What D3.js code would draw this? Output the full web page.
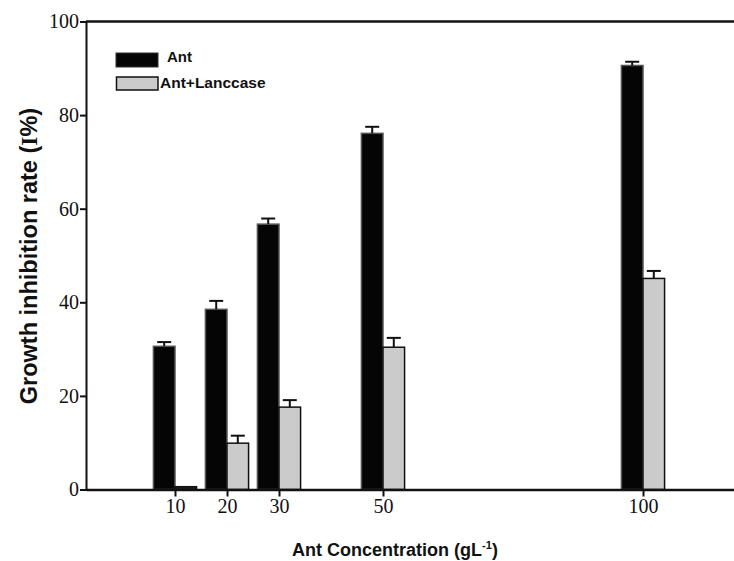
<!DOCTYPE html>
<html><head><meta charset="utf-8">
<script src="https://cdn.jsdelivr.net/npm/d3@7"></script>
<style>body{margin:0;background:#fff}svg{display:block}</style>
</head><body>
<svg id="c" width="734" height="561"></svg>
<script>
const concentrations = [10, 20, 30, 50, 100];
const antValues = [30.6, 38.5, 56.7, 76.1, 90.6];
const antErrors = [0.9, 1.8, 1.2, 1.4, 0.8];
const laccaseValues = [0.6, 9.9, 17.6, 30.4, 45.1];
const laccaseErrors = [0, 1.6, 1.5, 2.0, 1.6];
const yTicks = [0, 20, 40, 60, 80, 100];
const seriesNames = ["Ant", "Ant+Lanccase"];

const svg = d3.select("#c");
const x = d3.scaleLinear().domain([-7.115, 117.5]).range([86, 734]);
const y = d3.scaleLinear().domain([0, 100]).range([489.5, 21.5]);
const bw = x(4.15) - x(0);
const serif = "'Liberation Serif','Times New Roman',serif";
const sans = "'Liberation Sans',Arial,sans-serif";

// bars
const series = [
  {name: seriesNames[0], vals: antValues, errs: antErrors, fill: "#050505", stroke: "#555", off: -1},
  {name: seriesNames[1], vals: laccaseValues, errs: laccaseErrors, fill: "#cbcbcb", stroke: "#111", off: 0}
];
series.forEach(s => {
  const g = svg.append("g");
  concentrations.forEach((c, i) => {
    const x0 = x(c) + s.off * bw;
    g.append("rect").attr("x", x0).attr("y", y(s.vals[i])).attr("width", bw)
      .attr("height", y(0) - y(s.vals[i])).attr("fill", s.vals[i] < 1 ? "#222" : s.fill)
      .attr("stroke", s.stroke).attr("stroke-width", 1.5);
    if (s.errs[i] > 0) {
      const cx = x0 + bw / 2;
      g.append("line").attr("x1", cx).attr("x2", cx).attr("y1", y(s.vals[i]))
        .attr("y2", y(s.vals[i] + s.errs[i])).attr("stroke", "#111").attr("stroke-width", 2);
      g.append("line").attr("x1", cx - 7).attr("x2", cx + 7).attr("y1", y(s.vals[i] + s.errs[i]))
        .attr("y2", y(s.vals[i] + s.errs[i])).attr("stroke", "#111").attr("stroke-width", 2);
    }
  });
});

// axes
const yAxis = svg.append("g").attr("transform", `translate(${x.range()[0]},0)`)
  .call(d3.axisLeft(y).tickValues(yTicks).tickSize(6).tickPadding(1));
yAxis.select(".domain").attr("stroke", "#111").attr("stroke-width", 2);
yAxis.selectAll(".tick line").attr("stroke", "#111").attr("stroke-width", 2);
yAxis.selectAll(".tick text").attr("font-family", serif).attr("font-size", 20).attr("fill", "#111");

const xAxis = svg.append("g").attr("transform", `translate(0,${y(0)})`)
  .call(d3.axisBottom(x).tickValues(concentrations).tickSize(7).tickPadding(2).tickSizeOuter(0));
xAxis.select(".domain").attr("stroke", "#111").attr("stroke-width", 2.5);
xAxis.selectAll(".tick line").attr("stroke", "#111").attr("stroke-width", 2);
xAxis.selectAll(".tick text").attr("font-family", serif).attr("font-size", 20).attr("fill", "#111");

// top frame line
svg.append("line").attr("x1", x.range()[0]).attr("x2", x.range()[1])
  .attr("y1", y(100)).attr("y2", y(100)).attr("stroke", "#111").attr("stroke-width", 2.5);

// legend
const leg = svg.append("g");
leg.append("rect").attr("x", 116).attr("y", 53).attr("width", 42).attr("height", 14)
  .attr("fill", "#050505").attr("stroke", "#333").attr("stroke-width", 1);
leg.append("text").attr("x", 167).attr("y", 62).text(seriesNames[0])
  .attr("font-family", sans).attr("font-weight", "bold").attr("font-size", 15).attr("fill", "#111");
leg.append("rect").attr("x", 116.5).attr("y", 77).attr("width", 41.5).attr("height", 13)
  .attr("fill", "#cbcbcb").attr("stroke", "#111").attr("stroke-width", 1.5);
leg.append("text").attr("x", 160).attr("y", 88).text(seriesNames[1])
  .attr("font-family", sans).attr("font-weight", "bold").attr("font-size", 15.5).attr("fill", "#111");

// axis titles
const yt = svg.append("text").attr("transform", "translate(37,256) rotate(-90)")
  .attr("text-anchor", "middle").attr("font-family", sans).attr("font-weight", "bold")
  .attr("font-size", 23.5).attr("fill", "#111");
yt.append("tspan").text("Growth inhibition rate (");
yt.append("tspan").text("I").attr("font-family", serif);
yt.append("tspan").text("%)");

const xt = svg.append("text").attr("x", 395).attr("y", 556).attr("text-anchor", "middle")
  .attr("font-family", sans).attr("font-weight", "bold").attr("font-size", 18).attr("fill", "#111");
xt.append("tspan").text("Ant Concentration (gL");
xt.append("tspan").text("-1").attr("font-size", 11).attr("dy", -7);
xt.append("tspan").text(")").attr("dy", 7);
</script>
</body></html>
